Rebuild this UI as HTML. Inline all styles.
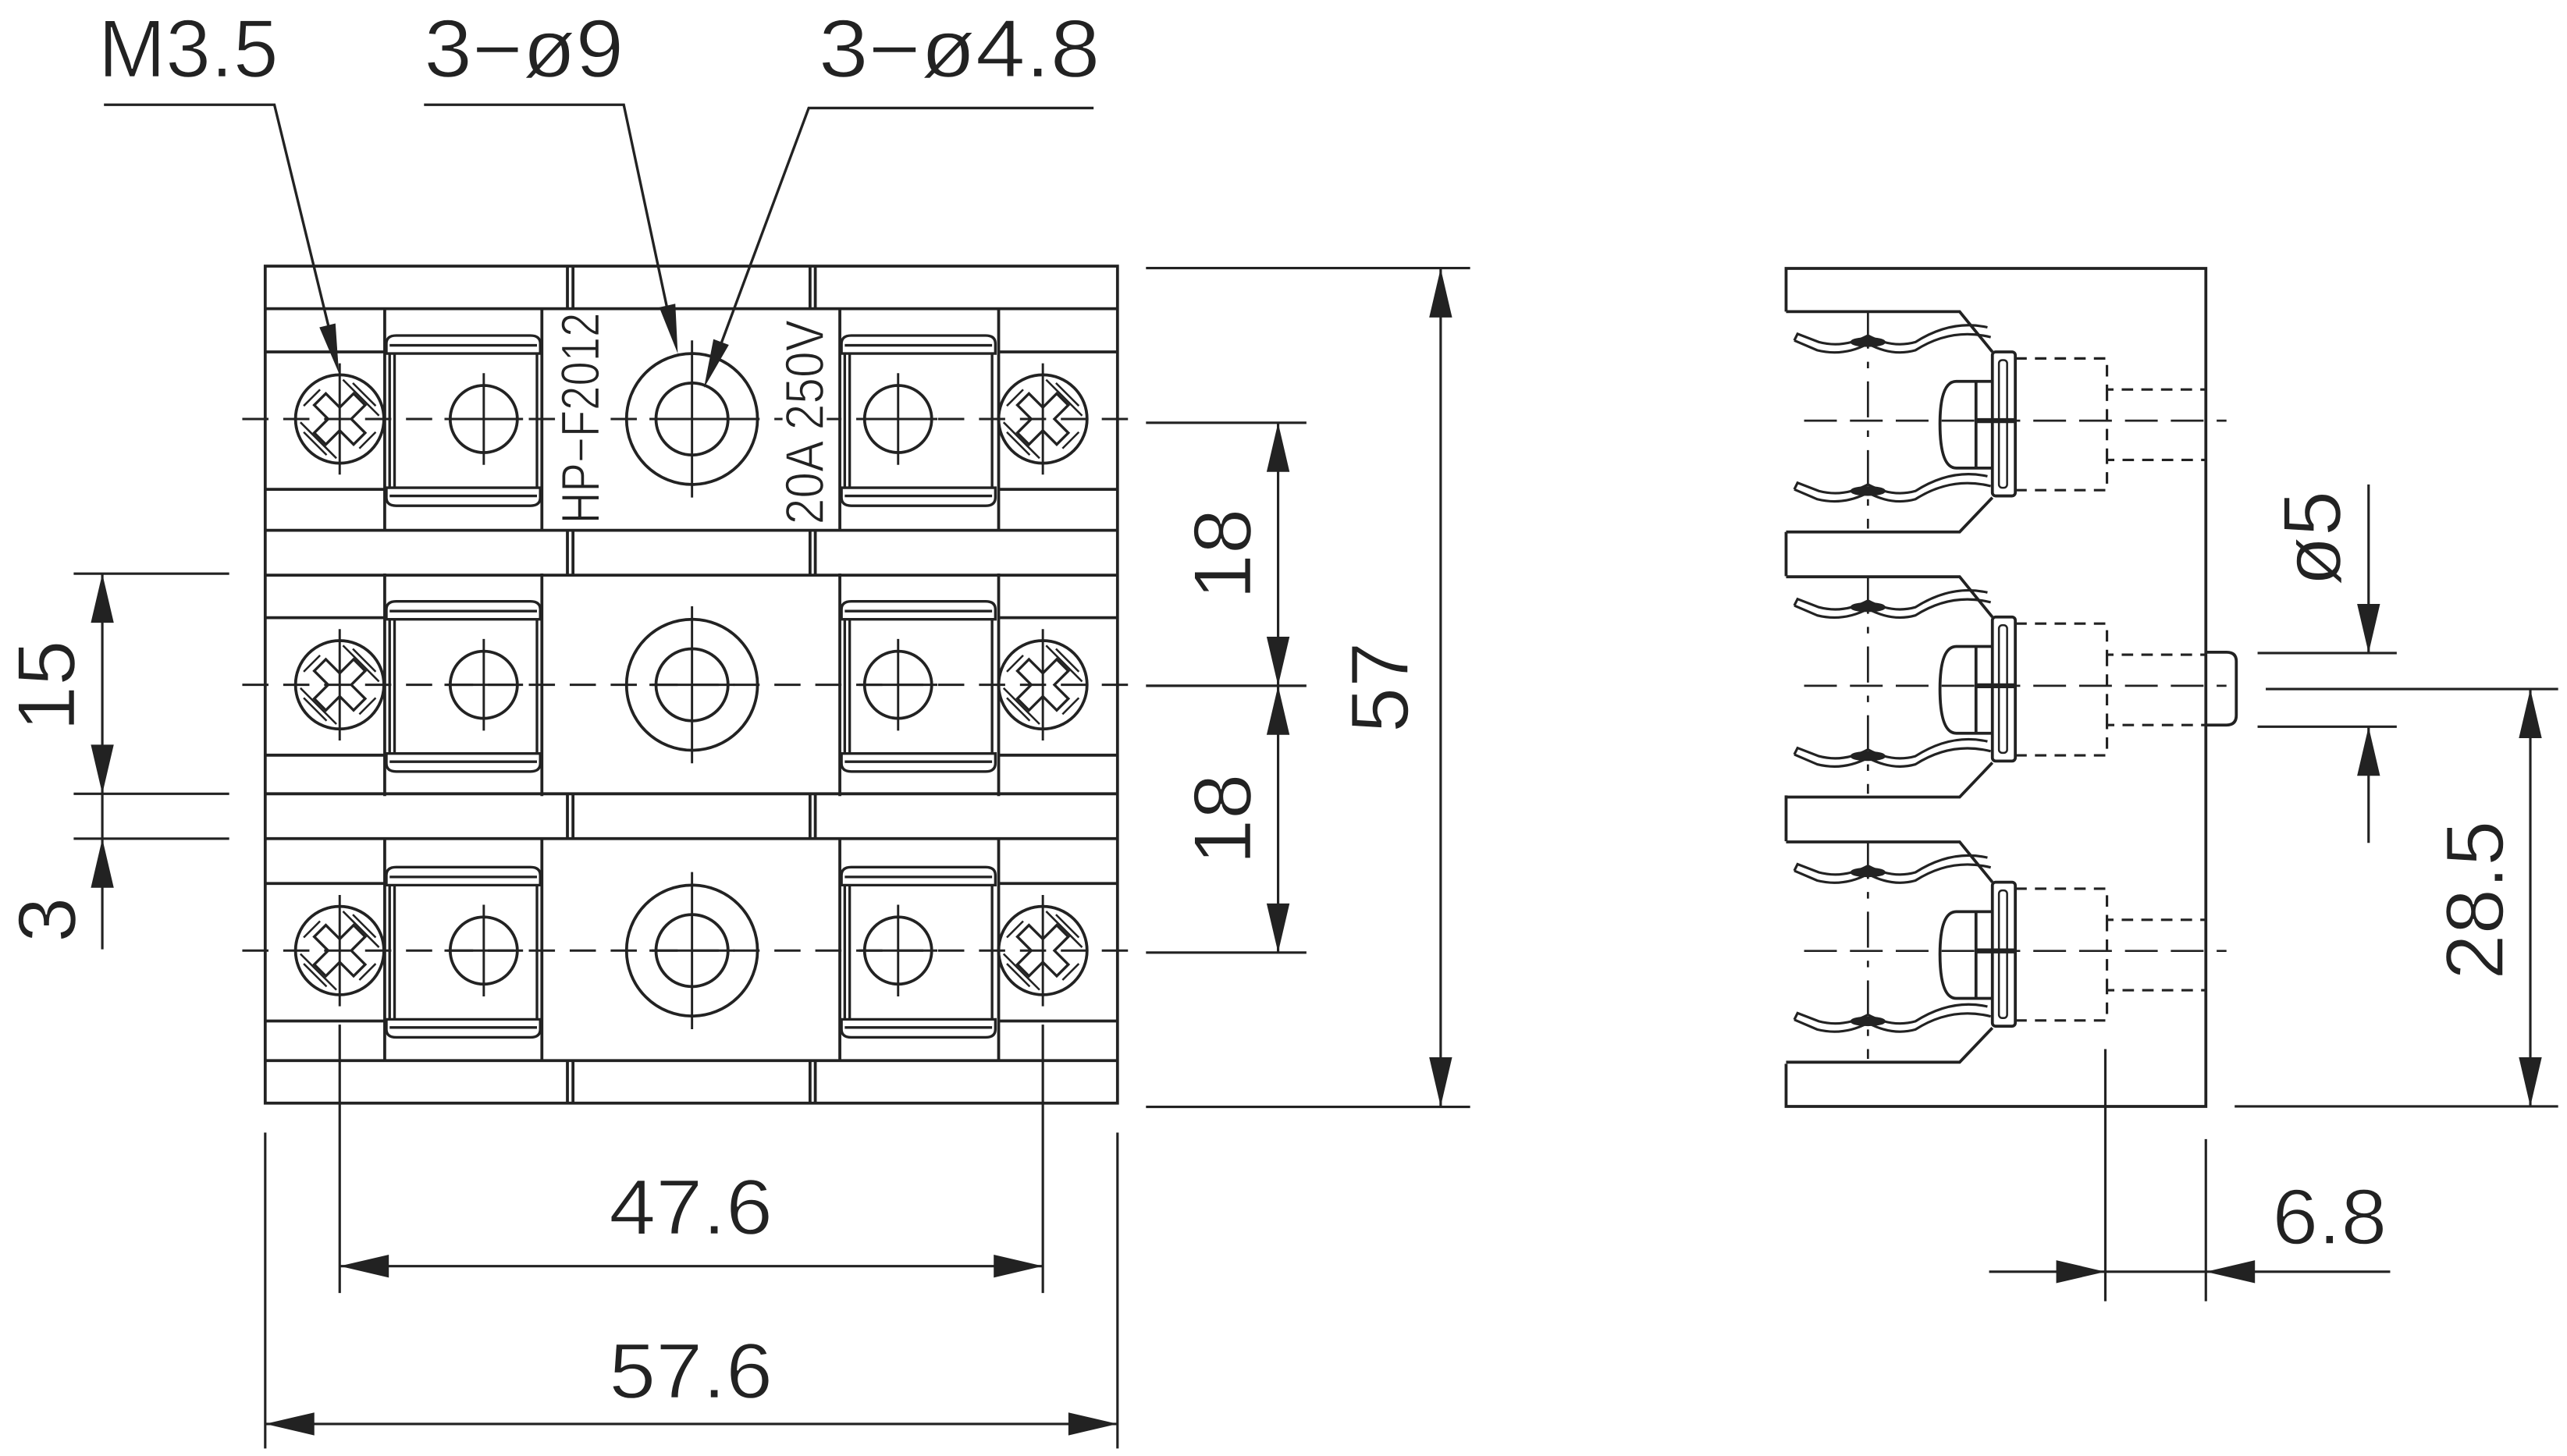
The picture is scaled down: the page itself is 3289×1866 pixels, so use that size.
<!DOCTYPE html>
<html><head><meta charset="utf-8"><style>
html,body{margin:0;padding:0;background:#fff}
svg{display:block}
text{font-family:"Liberation Sans",sans-serif;fill:#222;stroke:#fff;stroke-width:0.7px}
</style></head><body>
<svg width="3289" height="1866" viewBox="0 0 1568 889.6" preserveAspectRatio="none" xmlns="http://www.w3.org/2000/svg">
<defs>
<g id="screw">
  <circle r="27" fill="none" stroke="#222" stroke-width="1.8"/>
  <path d="M-5,-17 L5,-17 L5,-5 L17,-5 L17,5 L5,5 L5,17 L-5,17 L-5,5 L-17,5 L-17,-5 L-5,-5 Z" transform="rotate(45)" fill="none" stroke="#222" stroke-width="1.6"/>
  <path d="M-22,8 L-8,22 M-24,2 L-2,24 M8,-22 L22,-8 M2,-24 L24,-2 M-22,-8 L-12,-18 M12,18 L22,8" stroke="#222" stroke-width="1.2"/>
  <path d="M0,-34 V34" stroke="#222" stroke-width="1.4"/>
</g>
<g id="term">
  <circle r="20.5" fill="none" stroke="#222" stroke-width="1.8"/>
  <path d="M0,-28 V28 M-24,0 H24" stroke="#222" stroke-width="1.4"/>
</g>
<g id="big">
  <circle r="40" fill="none" stroke="#222" stroke-width="1.8"/>
  <circle r="22" fill="none" stroke="#222" stroke-width="1.8"/>
  <path d="M0,-48 V48 M-26,0 H26" stroke="#222" stroke-width="1.4"/>
</g>
<g id="clamp" fill="none" stroke="#222" stroke-width="1.6">
  <path d="M0,-40 V-46 Q0,-51 6,-51 H88 Q94,-51 94,-46 V-40 Z"/>
  <path d="M2,-45 H92"/>
  <path d="M0,42 V48 Q0,53 6,53 H88 Q94,53 94,48 V42 Z"/>
  <path d="M2,47 H92"/>
  <path d="M2,-40 V42 M5,-40 V42 M92,-40 V42"/>
</g>
<g id="frow" stroke="#222" stroke-width="1.8" fill="none">
  <path d="M162,-41 H235 M162,43 H235 M610,-41 H683 M610,43 H683"/>
  <path d="M235,-68 V68 M331,-68 V68 M513,-68 V68 M610,-68 V68"/>
  <use href="#clamp" x="236"/>
  <use href="#clamp" x="514"/>
  <use href="#screw" x="207.5"/>
  <use href="#screw" x="637"/>
  <use href="#term" x="295.5"/>
  <use href="#term" x="548.6"/>
  <use href="#big" x="422.7"/>
  <path d="M148,0 H698" stroke-width="1.4" stroke-dasharray="16 9"/>
</g>
<g id="spring" fill="none" stroke="#222" stroke-width="1.5">
  <path d="M1096,-4 L1110,2 Q1126,6 1141,-2 Q1156,6 1170,2 Q1192,-12 1216,-6"/>
  <path d="M1096,-4 L1098,-8 L1111,-3 Q1126,1 1141,-7 Q1156,1 1170,-3 Q1192,-17 1214,-12"/>
  <ellipse cx="1141" cy="-3" rx="10" ry="2.2" fill="#222"/>
</g>
<g id="srow" fill="none" stroke="#222" stroke-width="1.8">
  <path d="M1091,-66.6 H1197 L1217,-42"/>
  <path d="M1217,47 L1197,68 H1091"/>
  <rect x="1217" y="-42" width="14" height="88" rx="2"/>
  <rect x="1221" y="-37" width="5" height="78" rx="2" stroke-width="1.2"/>
  <path d="M1217,-24 H1207 V29 H1217 M1207,-24 H1195 Q1185,-24 1185,2 Q1185,29 1195,29 H1207" />
  <path d="M1231,-38 H1287 V-19 H1347 M1231,42.5 H1287 V24 H1347 M1287,-19 V24" stroke-dasharray="7 5" stroke-width="1.5"/>
  <use href="#spring" y="-45"/>
  <use href="#spring" y="46"/>
  <path d="M1141,-66 V66" stroke-width="1.3" stroke-dasharray="22 8 4 8"/>
  <path d="M1102,0 H1360" stroke-width="1.3" stroke-dasharray="20 8"/>
  <path d="M1207,0 H1231" stroke-width="3"/>
</g>
</defs>

<!-- front view -->
<g stroke="#222" stroke-width="1.8" fill="none">
  <rect x="162" y="162.6" width="520.6" height="511.4"/>
  <path d="M162,188.6 H682.6 M162,324 H682.6 M162,351.4 H682.6 M162,485 H682.6 M162,512.4 H682.6 M162,648 H682.6"/>
  <path d="M346.6,162.6 V188.6 M350,162.6 V188.6 M494.8,162.6 V188.6 M498,162.6 V188.6"/>
  <path d="M346.6,324 V351.4 M350,324 V351.4 M494.8,324 V351.4 M498,324 V351.4"/>
  <path d="M346.6,485 V512.4 M350,485 V512.4 M494.8,485 V512.4 M498,485 V512.4"/>
  <path d="M346.6,648 V674 M350,648 V674 M494.8,648 V674 M498,648 V674"/>
</g>
<use href="#frow" y="256"/>
<use href="#frow" y="418.4"/>
<use href="#frow" y="580.8"/>
<rect x="342" y="192" width="26" height="128" fill="#fff"/>
<rect x="478" y="194" width="27" height="128" fill="#fff"/>
<text transform="translate(366,255.5) rotate(-90)" font-size="33" text-anchor="middle" textLength="129" lengthAdjust="spacingAndGlyphs">HP−F2012</text>
<text transform="translate(503,258) rotate(-90)" font-size="33" text-anchor="middle" textLength="125" lengthAdjust="spacingAndGlyphs">20A  250V</text>

<!-- leaders -->
<g stroke="#222" stroke-width="1.6" fill="none">
  <path d="M63.5,64 H167.6 L204,213"/>
  <path d="M259,64 H381 L410,200"/>
  <path d="M668,66 H494 L436,222"/>
</g>
<g fill="#222">
  <polygon points="207,228 204.9,197.6 195.1,200"/>
  <polygon points="414,216 412.5,185.6 402.7,187.8"/>
  <polygon points="430,237 445.2,210.7 435.8,207.2"/>
</g>
<text x="60" y="47" font-size="50" textLength="110" lengthAdjust="spacingAndGlyphs">M3.5</text>
<text x="259" y="47" font-size="50" textLength="122" lengthAdjust="spacingAndGlyphs">3−ø9</text>
<text x="500" y="47" font-size="50" textLength="172" lengthAdjust="spacingAndGlyphs">3−ø4.8</text>

<!-- front dims -->
<g stroke="#222" stroke-width="1.5" fill="none">
  <path d="M700,163.8 H898 M700,676.3 H898 M880,163.8 V676.3"/>
  <path d="M700,258.3 H798 M700,419 H798 M700,582 H798 M780.7,258.3 V582"/>
  <path d="M45,350.5 H140 M45,485 H140 M45,512.4 H140 M62.5,350.5 V580"/>
  <path d="M207.5,626 V790 M637,626 V790 M207.5,773.6 H637"/>
  <path d="M162,692 V885 M682.6,692 V885 M162,870 H682.6"/>
</g>
<g fill="#222">
  <polygon points="880,164 873,194 887,194"/><polygon points="880,676 873,646 887,646"/>
  <polygon points="780.7,258.3 773.7,288.3 787.7,288.3"/><polygon points="780.7,419 773.7,389 787.7,389"/>
  <polygon points="780.7,419 773.7,449 787.7,449"/><polygon points="780.7,582 773.7,552 787.7,552"/>
  <polygon points="62.5,350.5 55.5,380.5 69.5,380.5"/><polygon points="62.5,485 55.5,455 69.5,455"/>
  <polygon points="62.5,512.4 55.5,542.4 69.5,542.4"/>
  <polygon points="207.5,773.6 237.5,766.6 237.5,780.6"/><polygon points="637,773.6 607,766.6 607,780.6"/>
  <polygon points="162,870 192,863 192,877"/><polygon points="682.6,870 652.6,863 652.6,877"/>
</g>
<text transform="translate(860,420) rotate(-90)" font-size="50" text-anchor="middle">57</text>
<text transform="translate(764,338.5) rotate(-90)" font-size="50" text-anchor="middle">18</text>
<text transform="translate(764,500.5) rotate(-90)" font-size="50" text-anchor="middle">18</text>
<text transform="translate(45.6,419) rotate(-90)" font-size="50" text-anchor="middle">15</text>
<text transform="translate(46,562) rotate(-90)" font-size="50" text-anchor="middle">3</text>
<text x="422" y="754" font-size="48" text-anchor="middle" textLength="100" lengthAdjust="spacingAndGlyphs">47.6</text>
<text x="422" y="854" font-size="48" text-anchor="middle" textLength="100" lengthAdjust="spacingAndGlyphs">57.6</text>

<!-- side view -->
<g stroke="#222" stroke-width="1.8" fill="none">
  <path d="M1091,190.4 V164 H1347.4 V676 H1091 V650"/>
  <path d="M1091,325 V352 M1091,486 V514"/>
  <path d="M1347.4,398.5 H1360 Q1366,398.5 1366,404 V437 Q1366,443 1360,443 H1347.4"/>
</g>
<use href="#srow" y="257"/>
<use href="#srow" y="419"/>
<use href="#srow" y="581"/>

<!-- side dims -->
<g stroke="#222" stroke-width="1.5" fill="none">
  <path d="M1379,399 H1464 M1379,444 H1464 M1446.8,296 V399 M1446.8,444 V515"/>
  <path d="M1384,421 H1562.6 M1365,676 H1562.6 M1545.6,421 V676"/>
  <path d="M1286,641 V795 M1347.4,696 V795 M1215,777 H1460"/>
</g>
<g fill="#222">
  <polygon points="1446.8,399 1439.8,369 1453.8,369"/><polygon points="1446.8,444 1439.8,474 1453.8,474"/>
  <polygon points="1545.6,421 1538.6,451 1552.6,451"/><polygon points="1545.6,676 1538.6,646 1552.6,646"/>
  <polygon points="1286,777 1256,770 1256,784"/><polygon points="1347.4,777 1377.4,770 1377.4,784"/>
</g>
<text transform="translate(1429.5,329) rotate(-90)" font-size="50" text-anchor="middle">ø5</text>
<text transform="translate(1529,550) rotate(-90)" font-size="50" text-anchor="middle">28.5</text>
<text x="1423" y="760" font-size="48" text-anchor="middle" textLength="70" lengthAdjust="spacingAndGlyphs">6.8</text>
</svg>
</body></html>
